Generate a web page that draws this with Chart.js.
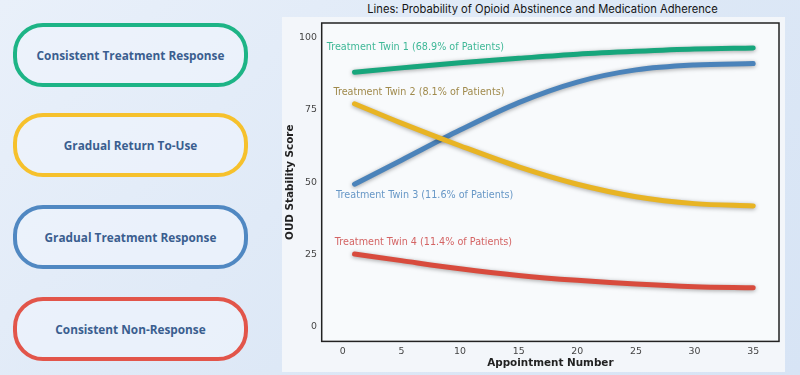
<!DOCTYPE html>
<html lang="en">
<head>
<meta charset="UTF-8">
<meta name="viewport" content="width=device-width, initial-scale=1.0">
<title>Probability of Opioid Abstinence and Medication Adherence</title>
<script src="https://cdn.jsdelivr.net/npm/chart.js"></script>
<style>
    html, body { margin: 0; padding: 0; }
    body {
        width: 800px;
        height: 375px;
        overflow: hidden;
        position: relative;
        background: linear-gradient(135deg, #e9f0fa 0%, #dde8f6 55%, #d7e4f5 100%);
        font-family: "Open Sans", Arial, sans-serif;
    }
    .pill {
        position: absolute;
        left: 13px;
        width: 235px;
        height: 64px;
        box-sizing: border-box;
        border: 4px solid;
        border-radius: 30px;
        background: rgba(238, 244, 252, 0.7);
        display: flex;
        align-items: center;
        justify-content: center;
        color: #3a5e8f;
        font-weight: 700;
        font-size: 11.8px;
    }
    .card {
        position: absolute;
        left: 282px;
        top: 17px;
        width: 503px;
        height: 355px;
        background: #f3f6fa;
    }
    .title {
        position: absolute;
        left: 332px;
        width: 421px;
        top: 2px;
        text-align: center;
        font-family: Inter, sans-serif;
        font-size: 11.2px;
        color: #151515;
    }
    #wrap { position: absolute; left: 270px; top: 0; width: 530px; height: 375px; }
</style>
</head>
<body>
    <div class="pill" style="top:23px; border-color:#1db486;">Consistent Treatment Response</div>
    <div class="pill" style="top:113px; border-color:#f6c12c;">Gradual Return To-Use</div>
    <div class="pill" style="top:205px; border-color:#5088c2;">Gradual Treatment Response</div>
    <div class="pill" style="top:297px; border-color:#e2554a;">Consistent Non-Response</div>

    <div class="card"></div>
    <div class="title">Lines: Probability of Opioid Abstinence and Medication Adherence</div>
    <div id="wrap"><canvas id="oudChart" width="530" height="375"></canvas></div>

<script>
    // values
    const appointments = [1, 5, 10, 15, 20, 25, 30, 35];
    const twin1 = [88.0, 89.5, 91.3, 92.8, 94.2, 95.2, 96.0, 96.4];
    const twin2 = [77.1, 70.4, 62.6, 55.3, 49.3, 45.0, 42.6, 41.8];
    const twin3 = [49.3, 57.6, 68.0, 77.5, 84.6, 88.8, 90.5, 91.0];
    const twin4 = [25.2, 22.9, 20.1, 17.8, 16.1, 14.8, 13.9, 13.5];
    const twinNames = [
        'Treatment Twin 1 (68.9% of Patients)',
        'Treatment Twin 2 (8.1% of Patients)',
        'Treatment Twin 3 (11.6% of Patients)',
        'Treatment Twin 4 (11.4% of Patients)'
    ];
    // where each twin's text label sits (data units)
    const labelX = [-1.37, -0.80, -0.57, -0.68];
    const labelY = [96.4, 80.9, 45.3, 29.1];
    const xTicks = [0, 5, 10, 15, 20, 25, 30, 35];
    const yTicks = [0, 25, 50, 75, 100];

    const lineColors = ['#17a67c', '#e8b424', '#4b83ba', '#d84b3d'];
    const textColors = ['#3fb897', '#a08a4c', '#6797c6', '#d46464'];

    const ctx = document.getElementById('oudChart').getContext('2d');

    const plotFrame = {
        id: 'plotFrame',
        beforeDatasetsDraw(chart) {
            const { ctx, chartArea: a } = chart;
            ctx.save();
            ctx.fillStyle = '#f8fafc';
            ctx.fillRect(a.left, a.top, a.right - a.left, a.bottom - a.top);
            ctx.strokeStyle = '#222';
            ctx.lineWidth = 1.5;
            ctx.strokeRect(a.left, a.top, a.right - a.left, a.bottom - a.top);
            ctx.restore();
        }
    };

    const glow = {
        id: 'glow',
        beforeDatasetDraw(chart) {
            const c = chart.ctx;
            c.save();
            c.shadowColor = 'rgba(0,0,0,0.35)';
            c.shadowBlur = 4;
            c.shadowOffsetY = 1;
        },
        afterDatasetDraw(chart) {
            chart.ctx.restore();
        }
    };

    const twinLabels = {
        id: 'twinLabels',
        afterDatasetsDraw(chart) {
            const { ctx, scales } = chart;
            ctx.save();
            ctx.font = '9.65px "DejaVu Sans"';
            ctx.textAlign = 'left';
            ctx.textBaseline = 'middle';
            twinNames.forEach((name, i) => {
                ctx.fillStyle = textColors[i];
                ctx.fillText(name, scales.x.getPixelForValue(labelX[i]), scales.y.getPixelForValue(labelY[i]));
            });
            ctx.restore();
        }
    };

    const series = [twin1, twin2, twin3, twin4];

    new Chart(ctx, {
        type: 'line',
        data: {
            datasets: series.map((vals, i) => ({
                label: twinNames[i],
                data: appointments.map((x, j) => ({ x: x, y: vals[j] })),
                borderColor: lineColors[i],
                borderWidth: 5,
                borderCapStyle: 'round',
                pointRadius: 0,
                cubicInterpolationMode: 'monotone',
                fill: false
            }))
        },
        options: {
            responsive: false,
            animation: false,
            devicePixelRatio: 1,
            layout: { padding: { left: 0, right: 21, top: 23, bottom: 0 } },
            plugins: {
                legend: { display: false },
                tooltip: { enabled: false }
            },
            scales: {
                x: {
                    type: 'linear',
                    min: -1.8,
                    max: 37.2,
                    grid: { display: false, drawTicks: false },
                    border: { display: false },
                    afterBuildTicks: scale => { scale.ticks = xTicks.map(v => ({ value: v })); },
                    afterFit: scale => { scale.height = 33.6; },
                    ticks: { color: '#444', padding: 4.5, font: { family: 'DejaVu Sans', size: 9.4 } },
                    title: {
                        display: true,
                        text: 'Appointment Number',
                        color: '#222',
                        padding: { top: 0, bottom: 5.5 },
                        font: { family: 'DejaVu Sans', size: 10.4, weight: 'bold' }
                    }
                },
                y: {
                    min: -5,
                    max: 105,
                    grid: { display: false, drawTicks: false },
                    border: { display: false },
                    afterBuildTicks: scale => { scale.ticks = yTicks.map(v => ({ value: v })); },
                    afterFit: scale => { scale.width = 51.7; },
                    ticks: { color: '#444', padding: 4.7, font: { family: 'DejaVu Sans', size: 9.4 } },
                    title: {
                        display: true,
                        text: 'OUD Stability Score',
                        color: '#222',
                        padding: { top: 14.5, bottom: 0 },
                        font: { family: 'DejaVu Sans', size: 10.4, weight: 'bold' }
                    }
                }
            }
        },
        plugins: [plotFrame, glow, twinLabels]
    });
</script>
</body>
</html>
